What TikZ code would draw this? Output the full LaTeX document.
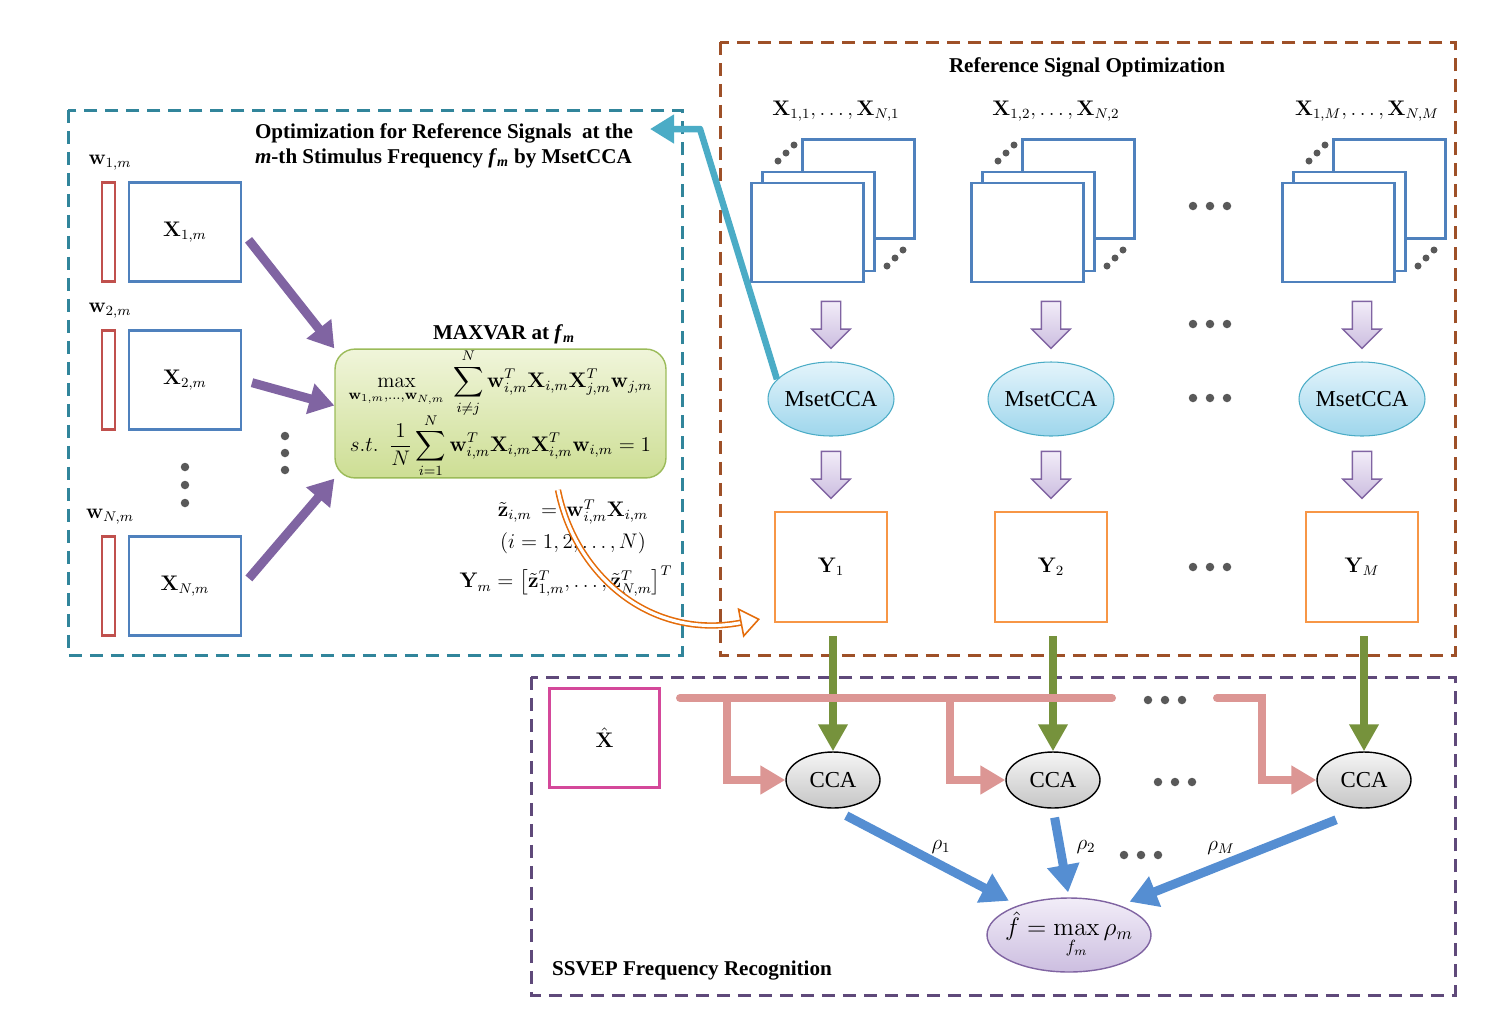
\documentclass[tikz,border=0pt]{standalone}
\usepackage{amsmath,amssymb}
\usepackage[no-math]{fontspec}
\setmainfont{Liberation Serif}
\usepackage{tikz}
\usetikzlibrary{arrows.meta,shapes.geometric,shapes.arrows}

\definecolor{tealc}{RGB}{49,133,155}
\definecolor{brownc}{RGB}{158,80,40}
\definecolor{purpdash}{RGB}{95,73,122}
\definecolor{xblue}{RGB}{79,129,189}
\definecolor{wred}{RGB}{192,80,77}
\definecolor{violetc}{RGB}{128,100,162}
\definecolor{greenedge}{RGB}{155,187,89}
\definecolor{greentop}{RGB}{240,245,218}
\definecolor{greenbot}{RGB}{205,222,148}
\definecolor{cyanedge}{RGB}{75,172,198}
\definecolor{cyantop}{RGB}{228,244,251}
\definecolor{cyanbot}{RGB}{158,214,236}
\definecolor{yorange}{RGB}{247,150,70}
\definecolor{pinkc}{RGB}{220,150,148}
\definecolor{greenc}{RGB}{118,146,60}
\definecolor{bluec}{RGB}{85,142,210}
\definecolor{magc}{RGB}{212,72,154}
\definecolor{orangec}{RGB}{228,108,10}
\definecolor{dotgray}{RGB}{89,89,89}
\definecolor{lavtop}{RGB}{242,237,248}
\definecolor{lavbot}{RGB}{204,190,224}

\begin{document}
\begin{tikzpicture}[x=0.02cm,y=-0.02cm,
  font=\fontsize{12}{14}\selectfont,
  titletext/.style={font=\fontsize{12}{14.2}\selectfont\bfseries},
  xbox/.style={draw=xblue, line width=0.055cm, fill=white, minimum width=2.24cm, minimum height=1.98cm, inner sep=0pt},
  wbar/.style={draw=wred, line width=0.05cm, minimum width=0.26cm, minimum height=1.98cm, inner sep=0pt},
  ybox/.style={draw=yorange, line width=0.055cm, minimum width=2.24cm, minimum height=2.2cm, inner sep=0pt},
  msetnode/.style={ellipse, draw=cyanedge, line width=0.6pt, top color=cyantop, bottom color=cyanbot, minimum width=2.52cm, minimum height=1.48cm, inner sep=0pt, font=\fontsize{13}{15}\selectfont},
  ccanode/.style={ellipse, draw=black, line width=0.8pt, top color=gray!8, bottom color=gray!45, minimum width=1.88cm, minimum height=1.12cm, inner sep=0pt, font=\fontsize{13}{15}\selectfont},
  fhatnode/.style={ellipse, draw=violetc, line width=0.8pt, top color=lavtop, bottom color=lavbot, minimum width=3.28cm, minimum height=1.48cm, inner sep=0pt, font=\fontsize{14.4}{16}\selectfont},
  downarrow/.style={single arrow, shape border rotate=270, draw=violetc, line width=0.8pt, top color=lavtop, bottom color=lavbot, minimum height=0.94cm, minimum width=0.74cm, single arrow head extend=0.19cm, inner sep=0.18cm},
  sdot/.style={circle, fill=dotgray, inner sep=0pt, minimum size=0.14cm},
  bdot/.style={circle, fill=dotgray, inner sep=0pt, minimum size=0.17cm},
  parrow/.style={violetc, line width=0.18cm, -{Triangle[length=0.5cm,width=0.6cm]}},
  garrow/.style={greenc, line width=0.15cm, -{Triangle[length=0.54cm,width=0.56cm]}},
  pinkline/.style={pinkc, line width=0.16cm, line cap=round},
  pinkarrow/.style={pinkc, line width=0.16cm, -{Triangle[length=0.5cm,width=0.55cm]}},
  barrow/.style={bluec, line width=0.18cm, -{Triangle[length=0.55cm,width=0.62cm]}},
  tarrow/.style={cyanedge, line width=0.13cm, -{Triangle[length=0.48cm,width=0.55cm]}},
  ocurve/.style={draw=orangec, double=white, double distance=1.8pt, line width=0.9pt, -{Triangle[open,length=0.4cm,width=0.6cm]}},
  dashbox/.style={line width=0.06cm, dash pattern=on 0.26cm off 0.16cm}
]
\useasboundingbox (0,0) rectangle (1485,1015);

% the three frames
\draw[dashbox, tealc] (68,110) rectangle (682,655);
\draw[dashbox, brownc] (720,42) rectangle (1455,655);
\draw[dashbox, purpdash] (531,677) rectangle (1455,995);

% MsetCCA at one frequency
\node[titletext, align=left] (lefttitle) at (444,146) {Optimization for Reference Signals\ \ at the\\
\textit{m}-th Stimulus Frequency \textit{f}\textsubscript{\textit{m}} by MsetCCA};
\foreach \i/\y in {1/232,2/380,N/586}
{
	\node (wlab\i) at (110,\y-69) {$\mathbf{w}_{\i,m}$};
	\node[wbar] (w\i) at (108.5,\y) {};
	\node[xbox] (x\i) at (185,\y) {$\mathbf{X}_{\i,m}$};
}
\foreach \y [count=\k] in {467,485,503}
{
	\node[bdot] (vl\k) at (185,\y) {};
}
\foreach \y [count=\k] in {436,453,470}
{
	\node[bdot] (vr\k) at (285,\y) {};
}
\node[titletext] (maxlab) at (504,334) {MAXVAR at \textit{f}\textsubscript{\textit{m}}};
\node[draw=greenedge, line width=0.8pt, rounded corners=0.4cm, top color=greentop, bottom color=greenbot,
  minimum width=6.62cm, minimum height=2.5cm, inner sep=0pt, align=center] (maxvar) at (500.5,413.5)
  {$\displaystyle\max_{\mathbf{w}_{1,m},\ldots,\mathbf{w}_{N,m}}\ \sum_{i\neq j}^{N}\mathbf{w}_{i,m}^T\mathbf{X}_{i,m}\mathbf{X}_{j,m}^T\mathbf{w}_{j,m}$\\[-3pt]
   $\displaystyle s.t.\ \ \frac{1}{N}\sum_{i=1}^{N}\mathbf{w}_{i,m}^T\mathbf{X}_{i,m}\mathbf{X}_{i,m}^T\mathbf{w}_{i,m}=1$};
\draw[parrow, shorten <=0.2cm] (x1.east) -- (maxvar.north west);
\draw[parrow, shorten <=0.2cm] (x2.east) -- ([yshift=0.16cm]maxvar.west);
\draw[parrow, shorten <=0.2cm] (xN.east) -- (maxvar.south west);
\node (zdef) at (573,512) {$\tilde{\mathbf{z}}_{i,m}\,=\,\mathbf{w}_{i,m}^T\mathbf{X}_{i,m}$};
\node (irange) at (573,543) {$(i=1,2,\ldots,N)$};
\node (ydef) at (566,581) {$\mathbf{Y}_m=\bigl[\tilde{\mathbf{z}}_{1,m}^T,\ldots,\tilde{\mathbf{z}}_{N,m}^T\bigr]^T$};

% reference signal optimization
\node[titletext] (rsotitle) at (1087,67) {Reference Signal Optimization};
\foreach \c/\cx in {1/831,2/1051,M/1362}
{
	\node (slab\c) at (\cx+5,111) {$\mathbf{X}_{1,\c},\ldots,\mathbf{X}_{N,\c}$};
	\node[xbox] (sback\c) at (\cx+27.5,189) {};
	\node[xbox] (smid\c) at (\cx-12.5,221.5) {};
	\node[xbox] (sfront\c) at (\cx-23.5,232.5) {};
	\foreach \dx/\dy [count=\k] in {-53/161,-45/153,-37/145,56/266,64/258,72/250}
	{
		\node[sdot] (sd\c\k) at (\cx+\dx,\dy) {};
	}
	\node[downarrow] (da\c) at (\cx,320) {};
	\node[msetnode] (mset\c) at (\cx,399) {\makebox[1.6cm]{MsetCCA}};
	\node[downarrow] (db\c) at (\cx,470) {};
	\node[ybox] (y\c) at (\cx,567) {$\mathbf{Y}_{\c}$};
	\node[ccanode] (cca\c) at (\cx+2,780) {CCA};
	\draw[garrow, shorten <=0.26cm] (cca\c.north |- y\c.south) -- (cca\c.north);
}
\foreach \x/\y [count=\k] in {1210/206,1210/324,1210/398,1210/567,1165/700,1175/782,1141/855}
{
	\foreach \d [count=\j] in {-17,0,17}
	{
		\node[bdot] (hd\k\j) at (\x+\d,\y) {};
	}
}

% feedback to the left frame
\coordinate (tcorner) at (700,129);
\coordinate (tend) at (650,129);
\draw[tarrow, line join=round] (mset1.160) -- (tcorner) -- (tend);

% Y_m goes to the right frame
\coordinate (ostart) at (558,490);
\coordinate (oend) at (760,619);
\draw[ocurve] (ostart) .. controls (575,575) and (650,640) .. (oend);

% recognition
\node[draw=magc, line width=0.06cm, minimum width=2.22cm, minimum height=1.98cm, inner sep=0pt] (xhat) at (604.5,737.5) {$\hat{\mathbf{X}}$};
\coordinate (busstart) at (680,698);
\coordinate (busend) at (1112,698);
\coordinate (tap1) at (727,698);
\coordinate (tap2) at (950,698);
\coordinate (busM) at (1217,698);
\coordinate (tapM) at (1262,698);
\draw[pinkline] (busstart) -- (busend);
\draw[pinkarrow] (tap1) |- (cca1.west);
\draw[pinkarrow] (tap2) |- (cca2.west);
\draw[pinkarrow, line cap=round] (busM) -- (tapM) |- (ccaM.west);

\node[fhatnode] (fhat) at (1069,935) {\makebox[2cm]{$\hat{f}=\max\limits_{f_m}\rho_m$}};
\draw[barrow, shorten <=0.3cm, shorten >=0.2cm] (cca1.south) -- (fhat.150);
\draw[barrow, shorten <=0.18cm, shorten >=0.1cm] (cca2.south) -- (fhat.north);
\draw[barrow, shorten <=0.6cm, shorten >=0.2cm] (ccaM.south) -- (fhat.30);
\node (rho1) at (941,847) {$\rho_1$};
\node (rho2) at (1086,847) {$\rho_2$};
\node (rhoM) at (1221,848) {$\rho_M$};
\node[titletext] (ssveptitle) at (692,970) {SSVEP Frequency Recognition};
\end{tikzpicture}
\end{document}
